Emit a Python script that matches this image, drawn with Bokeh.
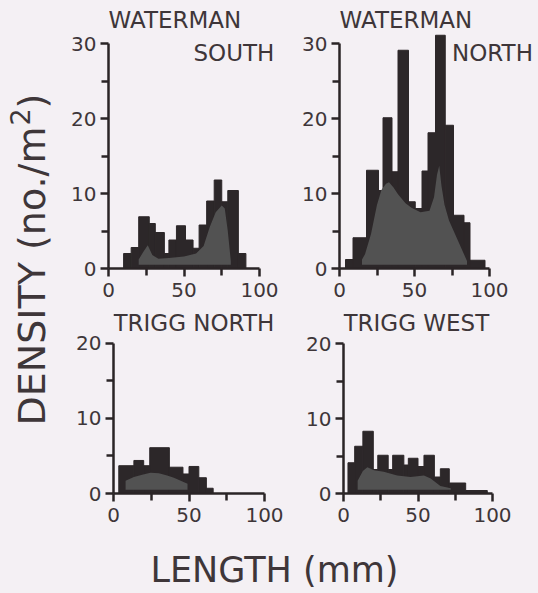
import math
from bokeh.plotting import figure
from bokeh.models import Label, FixedTicker, Range1d
from bokeh.layouts import row, column
from bokeh.embed import file_html
from bokeh.resources import INLINE

# ---------------- data (length in mm, density in no./m2) ----------------
ws_edges = [10, 15, 20, 27, 31, 37, 40, 45, 51, 56, 60, 65, 70, 75, 79, 86, 91]
ws_density = [2.0, 2.8, 6.9, 6.0, 4.8, 2.0, 3.8, 5.7, 3.8, 2.7, 5.8, 9.0, 11.8, 8.9, 10.4, 2.0]
ws_curve_x = [20, 23, 26, 29, 33, 40, 50, 58, 63, 67, 71, 75, 77, 79, 81]
ws_curve_y = [1.2, 2.2, 3.1, 1.8, 1.3, 1.4, 1.6, 2.0, 3.0, 5.5, 7.5, 8.4, 8.0, 5.0, 1.0]

wn_edges = [4, 9, 18, 26, 29, 35, 39, 46, 50.5, 55, 59, 64, 70.5, 76, 83, 87, 97]
wn_density = [1.2, 4.1, 13.1, 10.4, 20.1, 12.9, 29.1, 8.9, 8.0, 13.0, 18.1, 31.1, 19.1, 7.1, 6.1, 1.1]
wn_curve_x = [15, 17, 21, 25, 28, 31, 33, 36, 39, 44, 48, 54, 60, 63, 65, 66.5, 68, 70, 73, 79, 85]
wn_curve_y = [1.2, 1.9, 4.6, 8.5, 10.5, 11.3, 11.5, 10.8, 9.9, 8.7, 8.1, 7.5, 7.7, 9.5, 12.5, 13.7, 11.0, 8.5, 6.4, 3.7, 1.0]

tn_edges = [3.5, 13.5, 20, 24, 37, 46, 50, 56.5, 61.5, 66]
tn_density = [3.7, 4.4, 3.7, 6.1, 3.5, 2.6, 3.6, 2.1, 0.7]
tn_curve_x = [8, 13.5, 19, 24.5, 30, 35.5, 40, 44.5, 49]
tn_curve_y = [1.7, 2.2, 2.5, 2.75, 2.7, 2.4, 2.1, 1.7, 1.3]

tw_edges = [3, 7.5, 13, 20, 23, 30, 33, 40.5, 43.5, 50, 54, 61, 65, 71, 82, 96.5]
tw_density = [4.1, 6.3, 8.3, 3.2, 5.1, 3.2, 5.1, 3.8, 4.7, 3.6, 5.1, 2.2, 3.3, 1.4, 0.4]
tw_curve_x = [9.5, 13, 16, 20.5, 27, 36, 45, 54, 58.5, 65, 72]
tw_curve_y = [1.7, 3.0, 3.5, 3.1, 2.9, 2.4, 2.2, 2.4, 2.0, 1.0, 0.7]

x_ticks = [0, 50, 100]
x_minor = [25, 75]
top_yticks = [0, 10, 20, 30]
top_yminor = [5, 15, 25]
bot_yticks = [0, 10, 20]
bot_yminor = [5, 15]

# ---------------- style ----------------
BG = "#f4f0f4"
BAR = "#2c2729"
CURVE = "#525252"
AXIS = "#2a2426"
TEXT = "#3e3639"
FONT = "DejaVu Sans"


def panel(width, height, bl, bb, xmax, ymax, ybound, yticks, yminor,
          edges, dens, cx, cy, titles):
    p = figure(width=width, height=height,
               x_range=Range1d(0, xmax), y_range=Range1d(0, ymax),
               output_backend="svg", toolbar_location=None,
               min_border_left=bl, min_border_right=0,
               min_border_top=0, min_border_bottom=bb)
    p.background_fill_color = BG
    p.border_fill_color = BG
    p.outline_line_color = None
    p.grid.visible = False

    p.quad(left=edges[:-1], right=edges[1:], top=dens, bottom=0,
           fill_color=BAR, line_color=BAR, line_width=1)
    p.varea(x=cx, y1=[0.5] * len(cx), y2=cy, fill_color=CURVE)

    for ax in (p.xaxis[0], p.yaxis[0]):
        ax.axis_line_color = AXIS
        ax.axis_line_width = 2.5
        ax.major_tick_line_color = AXIS
        ax.major_tick_line_width = 2.5
        ax.minor_tick_line_color = AXIS
        ax.minor_tick_line_width = 2.5
        ax.major_tick_in = 0
        ax.minor_tick_in = 0
        ax.major_tick_out = 8
        ax.minor_tick_out = 7
        ax.major_label_text_font = FONT
        ax.major_label_text_font_size = "20px"
        ax.major_label_text_color = TEXT
    p.xaxis.ticker = FixedTicker(ticks=x_ticks, minor_ticks=x_minor)
    p.xaxis.bounds = (0, 100)
    p.xaxis.major_label_standoff = 6
    p.yaxis.ticker = FixedTicker(ticks=yticks, minor_ticks=yminor)
    p.yaxis.bounds = (0, ybound)
    p.yaxis.major_label_standoff = 4

    for (txt, x, y) in titles:
        p.add_layout(Label(x=x, y=y, text=txt, text_font=FONT,
                           text_font_size="23px", text_color=TEXT,
                           text_baseline="middle", text_align="left"))
    return p


p1 = panel(237, 308, 50, 40, 187 / 1.51, 268 / 7.5, 30, top_yticks, top_yminor,
           ws_edges, ws_density, ws_curve_x, ws_curve_y,
           [("WATERMAN", 0, 33.07), ("SOUTH", 56.3, 28.8)])
p2 = panel(241, 308, 44, 40, 197 / 1.5, 268 / 7.5, 30, top_yticks, top_yminor,
           wn_edges, wn_density, wn_curve_x, wn_curve_y,
           [("WATERMAN", 0, 33.07), ("NORTH", 75, 28.8)])
p3 = panel(237, 232, 55, 46, 182 / 1.51, 186 / 7.55, 20, bot_yticks, bot_yminor,
           tn_edges, tn_density, tn_curve_x, tn_curve_y,
           [("TRIGG NORTH", 0, 22.65)])
p4 = panel(241, 232, 48, 47, 193 / 1.49, 185 / 7.5, 20, bot_yticks, bot_yminor,
           tw_edges, tw_density, tw_curve_x, tw_curve_y,
           [("TRIGG WEST", 0, 22.67)])


def blank(width, height):
    f = figure(width=width, height=height, x_range=Range1d(0, width),
               y_range=Range1d(0, height), output_backend="svg",
               toolbar_location=None, x_axis_location=None,
               y_axis_location=None, min_border=0)
    f.background_fill_color = BG
    f.border_fill_color = BG
    f.outline_line_color = None
    f.grid.visible = False
    return f


left = blank(58, 591)
# y-axis title: main part, raised "2", closing parenthesis
left.add_layout(Label(x=31.5, y=166, text="DENSITY (no./m", angle=math.pi / 2,
                      text_font=FONT, text_font_size="38px", text_color=TEXT,
                      text_align="left", text_baseline="middle"))
left.add_layout(Label(x=19, y=466, text="2", angle=math.pi / 2,
                      text_font=FONT, text_font_size="27px", text_color=TEXT,
                      text_align="left", text_baseline="middle"))
left.add_layout(Label(x=31.5, y=483, text=")", angle=math.pi / 2,
                      text_font=FONT, text_font_size="38px", text_color=TEXT,
                      text_align="left", text_baseline="middle"))
bottom = blank(478, 51)
bottom.add_layout(Label(x=216, y=22, text="LENGTH (mm)", text_font=FONT,
                        text_font_size="35px", text_color=TEXT,
                        text_align="center", text_baseline="middle"))

layout = row(left, column(row(p1, p2), row(p3, p4), bottom))

html = file_html(layout, INLINE)
html = html.replace("</head>",
                    "<style>html, body { background: %s; }</style></head>" % BG, 1)
open("out.html", "w").write(html)
